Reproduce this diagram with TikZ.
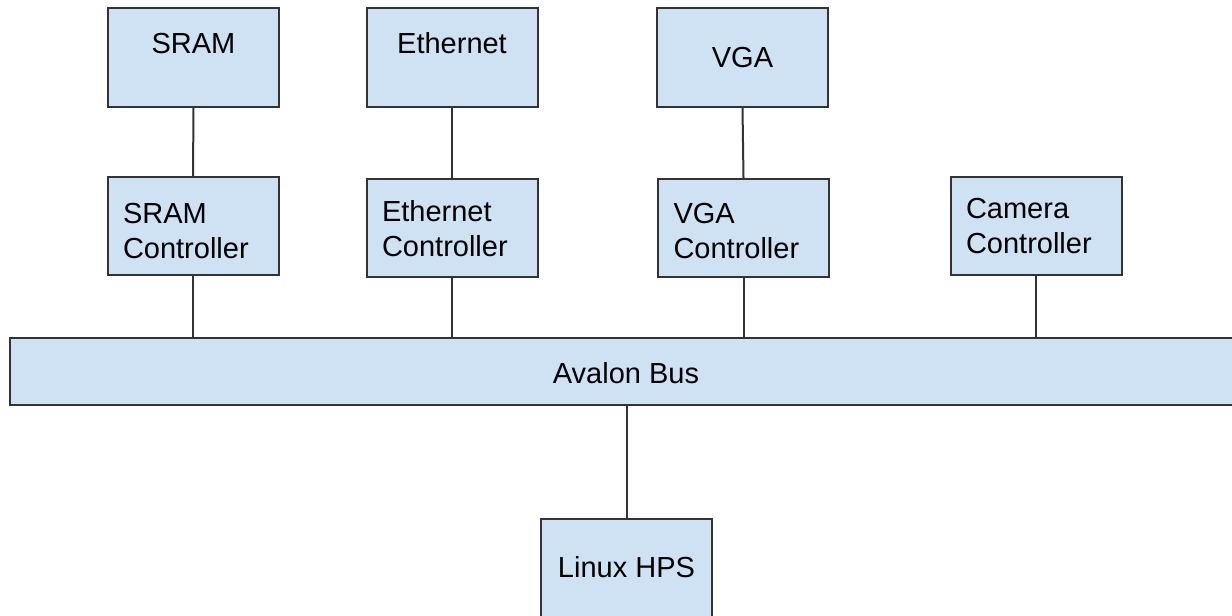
\documentclass[tikz,border=0pt]{standalone}
\usepackage{fontspec}
\setmainfont{Liberation Sans}

\definecolor{boxfill}{HTML}{CFE2F3}
\definecolor{edgegray}{HTML}{333333}

\tikzset{
    blockbox/.style 2 args={draw=edgegray, line width=1pt, fill=boxfill, inner sep=0pt,
        anchor=north, minimum width=85.5pt, text height=#1, text depth=#2,
        font=\fontsize{14.5}{17.5}\selectfont},
    ctlbox/.style 2 args={blockbox={#1}{#2}, text width=70pt, align=left, inner xsep=7.5pt},
    link/.style={draw=edgegray, line width=1pt}
}

\begin{document}
\begin{tikzpicture}[x=0.5pt, y=-0.5pt]
    % --- Define Coordinates and Parameters ---
    \def\topRow{7}       % top edge of the device row
    \def\ctlRow{176}     % top edge of the controller row
    \def\busTop{337}     % top edge of the bus
    \def\hpsTop{518}     % top edge of the HPS box

    % --- Page size (bus runs off the right edge) ---
    \useasboundingbox (0,0) rectangle (1232,616);
    \clip (0,0) rectangle (1232,616);

    % --- Devices ---
    \node[blockbox={22.5pt}{27pt}] (sram) at (193.5,\topRow) {SRAM};
    \node[blockbox={22.5pt}{27pt}] (eth) at (452,\topRow) {Ethernet};
    \node[blockbox={29.5pt}{20pt}] (vga) at (742.5,\topRow) {VGA};

    % --- Controllers ---
    \node[ctlbox={23pt}{26pt}] (sramctl) at (193,\ctlRow) {SRAM\\Controller};
    \node[ctlbox={21pt}{28pt}] (ethctl) at (452,\ctlRow+2) {Ethernet\\Controller};
    \node[ctlbox={22pt}{27pt}] (vgactl) at (743.5,\ctlRow+2) {VGA\\Controller};
    \node[ctlbox={20.5pt}{28.5pt}] (camctl) at (1036,\ctlRow) {Camera\\Controller};

    % --- Bus and processor ---
    \node[blockbox={22.5pt}{11pt}, minimum width=616pt] (bus) at (626,\busTop) {Avalon Bus};
    \node[blockbox={29pt}{21pt}] (hps) at (626.5,\hpsTop) {Linux HPS};

    % --- Device to controller links ---
    \draw[link] (sram.south) -- (sramctl.north);
    \draw[link] (eth.south) -- (ethctl.north);
    \draw[link] (vga.south) -- (vgactl.north);

    % --- Controller to bus links ---
    \foreach \ctl in {sramctl, ethctl, vgactl, camctl}
        \draw[link] (\ctl.south) -- (\ctl.south |- bus.north);

    % --- Bus to HPS ---
    \draw[link] (hps.north |- bus.south) -- (hps.north);

\end{tikzpicture}
\end{document}
